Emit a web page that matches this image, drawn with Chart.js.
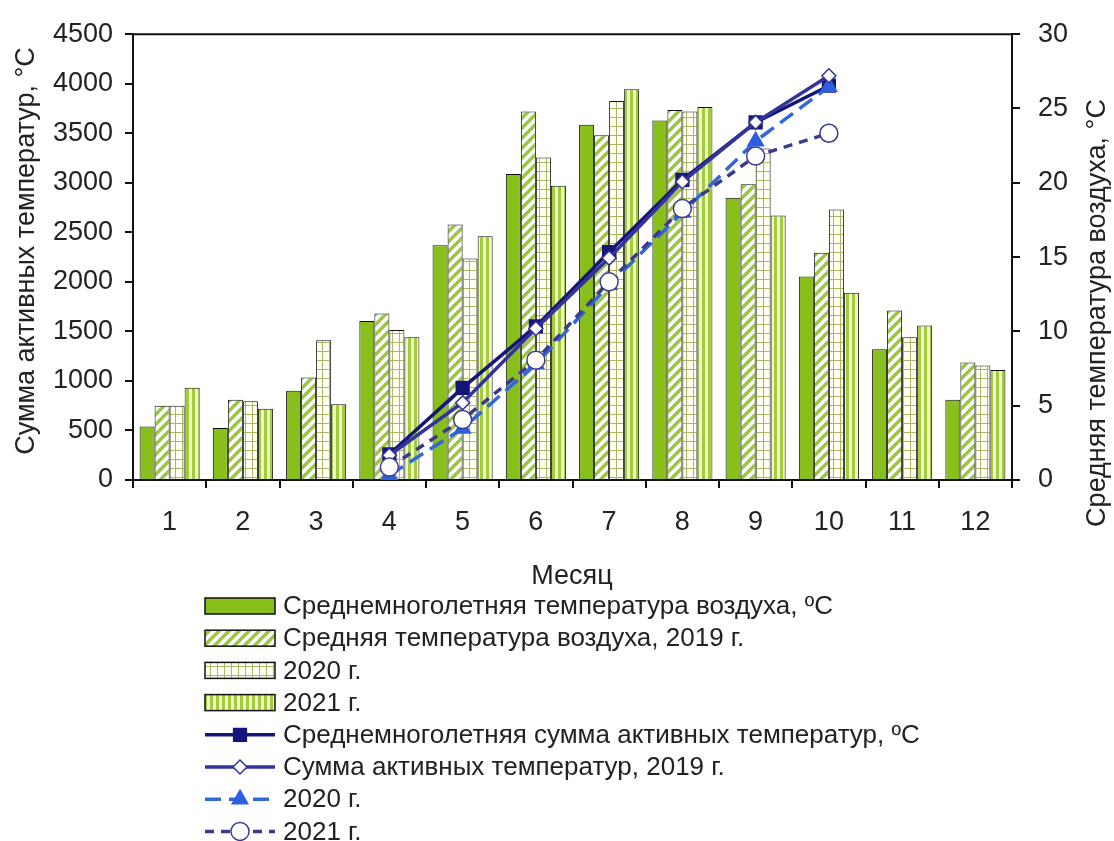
<!DOCTYPE html>
<html lang="ru">
<head>
<meta charset="UTF-8">
<title>Сумма активных температур и средняя температура воздуха</title>
<style>
  body { margin: 0; background: #fff; }
  #wrap { width: 1114px; height: 841px; }
</style>
</head>
<body>
<div id="wrap"><canvas id="chart" width="1114" height="841"></canvas></div>
<script src="https://cdn.jsdelivr.net/npm/chart.js"></script>
<script>
// месяцы
const months = ['1', '2', '3', '4', '5', '6', '7', '8', '9', '10', '11', '12'];

// средняя температура воздуха, °С (правая ось)
const tempMean = [3.6, 3.5, 6.0, 10.7, 15.8, 20.6, 23.9, 24.2, 19.0, 13.7, 8.8, 5.4];
const temp2019 = [5.0, 5.4, 6.9, 11.2, 17.2, 24.8, 23.2, 24.9, 19.9, 15.3, 11.4, 7.9];
const temp2020 = [5.0, 5.3, 9.4, 10.1, 14.9, 21.7, 25.5, 24.8, 22.3, 18.2, 9.6, 7.7];
const temp2021 = [6.2, 4.8, 5.1, 9.6, 16.4, 19.8, 26.3, 25.1, 17.8, 12.6, 10.4, 7.4];

// сумма активных температур, °С (левая ось)
const sumMean = [null, null, null, 260, 930, 1550, 2300, 3030, 3610, 3980, null, null];
const sum2019 = [null, null, null, 250, 780, 1530, 2240, 3010, 3610, 4080, null, null];
const sum2020 = [null, null, null, 50, 520, 1170, 1970, 2700, 3420, 3970, null, null];
const sum2021 = [null, null, null, 130, 610, 1210, 2000, 2740, 3270, 3500, null, null];

const leftTicks = { min: 0, max: 4500, step: 500 };
const rightTicks = { min: 0, max: 30, step: 5 };

const labels = [
    'Среднемноголетняя температура воздуха, ºС',
    'Средняя температура воздуха, 2019 г.',
    '2020 г.',
    '2021 г.',
    'Среднемноголетняя сумма активных температур, ºС',
    'Сумма активных температур, 2019 г.',
    '2020 г.',
    '2021 г.'
];

const FONT = '"Liberation Sans", Arial, sans-serif';
const GREEN = '#89bf1a';

function makePattern(w, h, draw) {
    const c = document.createElement('canvas');
    c.width = w; c.height = h;
    const g = c.getContext('2d');
    draw(g, w, h);
    return g.createPattern(c, 'repeat');
}

// штриховка "////"
const hatch = makePattern(10, 10, (g, w, h) => {
    g.fillStyle = '#fff'; g.fillRect(0, 0, w, h);
    g.strokeStyle = '#9bc83a'; g.lineWidth = 3.4;
    g.beginPath();
    g.moveTo(-2, h + 2); g.lineTo(w + 2, -2);
    g.moveTo(-3, 3); g.lineTo(3, -3);
    g.moveTo(w - 3, h + 3); g.lineTo(w + 3, h - 3);
    g.stroke();
});
// мелкая сетка
const grid = makePattern(7, 9, (g, w, h) => {
    g.fillStyle = '#fffff2'; g.fillRect(0, 0, w, h);
    g.fillStyle = '#a9b766';
    g.fillRect(0, 0, 1, h);
    g.fillRect(0, 0, w, 1);
});
// вертикальные полосы
const stripes = makePattern(6, 4, (g, w, h) => {
    g.fillStyle = '#eef6c4'; g.fillRect(0, 0, w, h);
    g.fillStyle = '#a3cc3c'; g.fillRect(0, 0, 3, h);
});

const barBase = { type: 'bar', yAxisID: 'y1', borderColor: '#111', borderWidth: 1, order: 10,
                  categoryPercentage: 0.82, barPercentage: 1.0 };
const lineBase = { type: 'line', yAxisID: 'y', borderWidth: 3.5, fill: false, tension: 0, pointBorderWidth: 1.5 };

const datasets = [
    { ...barBase, label: labels[0], data: tempMean, backgroundColor: GREEN },
    { ...barBase, label: labels[1], data: temp2019, backgroundColor: hatch },
    { ...barBase, label: labels[2], data: temp2020, backgroundColor: grid },
    { ...barBase, label: labels[3], data: temp2021, backgroundColor: stripes },
    { ...lineBase, label: labels[4], data: sumMean, borderColor: '#16167a', order: 3,
      pointStyle: 'rect', pointRadius: 9, pointBackgroundColor: '#16167a', pointBorderColor: '#16167a' },
    { ...lineBase, label: labels[5], data: sum2019, borderColor: '#33339a', order: 1,
      pointStyle: 'rectRot', pointRadius: 7, pointBackgroundColor: '#fff', pointBorderColor: '#33339a' },
    { ...lineBase, label: labels[6], data: sum2020, borderColor: '#3367d9', borderDash: [16, 8], order: 2,
      pointStyle: 'triangle', pointRadius: 9, pointBackgroundColor: '#2d5fe0', pointBorderColor: '#2d5fe0' },
    { ...lineBase, label: labels[7], data: sum2021, borderColor: '#3b3b8e', borderDash: [9, 7], order: 0,
      pointStyle: 'circle', pointRadius: 9, pointBackgroundColor: '#fff', pointBorderColor: '#3b3b8e' }
];

// рамка сверху, подписи осей, легенда списком
const decor = {
    id: 'decor',
    afterDraw(chart) {
        const ctx = chart.ctx;
        const a = chart.chartArea;
        ctx.save();
        ctx.strokeStyle = '#111'; ctx.lineWidth = 2;
        ctx.beginPath(); ctx.moveTo(a.left, a.top); ctx.lineTo(a.right, a.top); ctx.stroke();

        ctx.fillStyle = '#222';
        ctx.font = '27px ' + FONT;
        ctx.textAlign = 'center'; ctx.textBaseline = 'middle';
        ctx.fillText('Месяц', 572, 577);

        ctx.save(); ctx.translate(27, 251); ctx.rotate(-Math.PI / 2);
        ctx.fillText('Сумма активных температур, °С', 0, 0); ctx.restore();
        ctx.save(); ctx.translate(1098, 313); ctx.rotate(-Math.PI / 2);
        ctx.fillText('Средняя температура воздуха, °С', 0, 0); ctx.restore();

        // легенда
        const x0 = 205, x1 = 275, y0 = 606, dy = 32.2;
        chart.data.datasets.forEach((ds, i) => {
            const y = y0 + i * dy;
            if (ds.type === 'bar') {
                ctx.fillStyle = ds.backgroundColor;
                ctx.fillRect(x0, y - 8, x1 - x0, 16);
                ctx.strokeStyle = '#111'; ctx.lineWidth = 1.5;
                ctx.strokeRect(x0, y - 8, x1 - x0, 16);
            } else {
                ctx.strokeStyle = ds.borderColor; ctx.lineWidth = ds.borderWidth;
                ctx.setLineDash(ds.borderDash || []);
                ctx.beginPath(); ctx.moveTo(x0, y); ctx.lineTo(x1, y); ctx.stroke();
                ctx.setLineDash([]);
                ctx.fillStyle = ds.pointBackgroundColor; ctx.strokeStyle = ds.pointBorderColor;
                ctx.lineWidth = ds.pointBorderWidth;
                Chart.helpers.drawPoint(ctx, { pointStyle: ds.pointStyle, radius: ds.pointRadius, rotation: 0,
                                               borderWidth: ds.pointBorderWidth }, (x0 + x1) / 2, y);
            }
            ctx.fillStyle = '#222';
            ctx.font = '26px ' + FONT;
            ctx.textAlign = 'left'; ctx.textBaseline = 'middle';
            ctx.fillText(ds.label, 283, y + 1);
        });
        ctx.restore();
    }
};

const axisGrid = { drawOnChartArea: false, drawTicks: true, tickLength: 8, color: '#111', lineWidth: 2 };
const axisBorder = { display: true, color: '#111', width: 2 };
const tickFont = { family: FONT, size: 27 };
const plain = v => String(v);

new Chart(document.getElementById('chart'), {
    type: 'bar',
    data: { labels: months, datasets: datasets },
    options: {
        responsive: false,
        animation: false,
        layout: { padding: { top: 30, bottom: 241, left: 0, right: 0 } },
        plugins: { legend: { display: false }, tooltip: { enabled: false } },
        scales: {
            x: {
                offset: true,
                grid: { ...axisGrid, offset: true },
                border: axisBorder,
                ticks: { font: tickFont, color: '#222', padding: 18, maxRotation: 0 },
                afterFit: s => { s.height = 120; }
            },
            y: {
                position: 'left',
                min: leftTicks.min, max: leftTicks.max,
                grid: axisGrid, border: axisBorder,
                ticks: { stepSize: leftTicks.step, font: tickFont, color: '#222', padding: 12, callback: plain },
                afterFit: s => { s.width = 133; }
            },
            y1: {
                position: 'right',
                min: rightTicks.min, max: rightTicks.max,
                grid: axisGrid, border: axisBorder,
                ticks: { stepSize: rightTicks.step, font: tickFont, color: '#222', padding: 18, callback: plain },
                afterFit: s => { s.width = 102; }
            }
        }
    },
    plugins: [decor]
});
</script>
</body>
</html>
